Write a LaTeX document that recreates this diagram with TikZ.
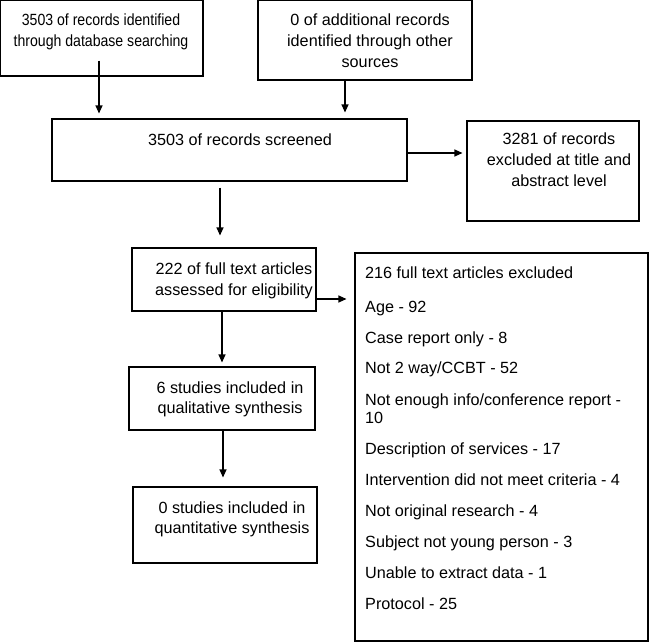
\documentclass[tikz,border=0pt]{standalone}
\usepackage{fontspec}
\setmainfont{Liberation Sans}
\newfontfamily\narrowsans[FakeStretch=0.87]{Liberation Sans}
\usetikzlibrary{arrows.meta}
\begin{document}
\begin{tikzpicture}[x=1pt,y=-1pt,
  box/.style={draw, line width=1.1pt, inner sep=0pt},
  txt/.style={font=\fontsize{16.2}{21}\selectfont, align=center, inner sep=0pt, anchor=north},
  arr/.style={line width=1.1pt, -{Triangle[length=8pt,width=7pt]}}]
\useasboundingbox (0,0) rectangle (650,642);
% boxes
\node[box, minimum width=202.5pt, minimum height=75.5pt] (b1) at (101.75,38.25) {};
\node[box, minimum width=214pt, minimum height=79.5pt] (b2) at (365,40.25) {};
\node[box, minimum width=355pt, minimum height=62pt] (b3) at (229.5,150) {};
\node[box, minimum width=172pt, minimum height=100pt] (b4) at (553,171) {};
\node[box, minimum width=184pt, minimum height=63pt] (b5) at (224,279.5) {};
\node[box, minimum width=293pt, minimum height=388pt] (b6) at (501.5,447) {};
\node[box, minimum width=186pt, minimum height=63pt] (b7) at (222,398.5) {};
\node[box, minimum width=184pt, minimum height=76pt] (b8) at (225,525) {};
% texts
\node[txt, font=\narrowsans\fontsize{16.2}{21}\selectfont] (t1) at (101,14) {3503 of records identified\\through database searching};
\node[txt] (t2) at (370,14) {0 of additional records\\identified through other\\sources};
\node[txt] (t3) at (240,134) {3503 of records screened};
\node[txt] (t4) at (559,133) {3281 of records\\excluded at title and\\abstract level};
\node[txt] (t5) at (234,263) {222 of full text articles\\assessed for eligibility};
\node[txt, font=\fontsize{16.2}{20}\selectfont] (t7) at (230,382) {6 studies included in\\qualitative synthesis};
\node[txt, font=\fontsize{16.2}{20}\selectfont] (t8) at (232,502) {0 studies included in\\quantitative synthesis};
\node[txt, align=left, anchor=north west, font=\fontsize{16.2}{18}\selectfont] (t6) at (365,267)
  {216 full text articles excluded\\[16pt]
   Age - 92\\[13pt]
   Case report only - 8\\[12pt]
   Not 2 way/CCBT - 52\\[14pt]
   Not enough info/conference report -\\
   10\\[13pt]
   Description of services - 17\\[13pt]
   Intervention did not meet criteria - 4\\[13pt]
   Not original research - 4\\[13pt]
   Subject not young person - 3\\[13pt]
   Unable to extract data - 1\\[13pt]
   Protocol - 25};
% connectors
\draw[arr, shorten >=5pt] ([xshift=-2.75pt,yshift=16pt]b1.south) coordinate (s1) -- (s1 |- b3.north);
\draw[arr, shorten >=6pt] ([xshift=-20pt]b2.south) coordinate (s2) -- (s2 |- b3.north);
\draw[arr, shorten >=4pt] ([yshift=-3pt]b3.east) coordinate (s3) -- (s3 -| b4.west);
\draw[arr, shorten <=6pt, shorten >=12pt] ([xshift=-9.5pt]b3.south) coordinate (s4) -- (s4 |- b5.north);
\draw[arr, shorten >=8pt] ([yshift=-19.5pt]b5.east) coordinate (s5) -- (s5 -| b6.west);
\draw[arr, shorten >=4pt] ([xshift=-2pt]b5.south) coordinate (s6) -- (s6 |- b7.north);
\draw[arr, shorten >=9pt] ([xshift=1pt]b7.south) coordinate (s7) -- (s7 |- b8.north);
\end{tikzpicture}
\end{document}
